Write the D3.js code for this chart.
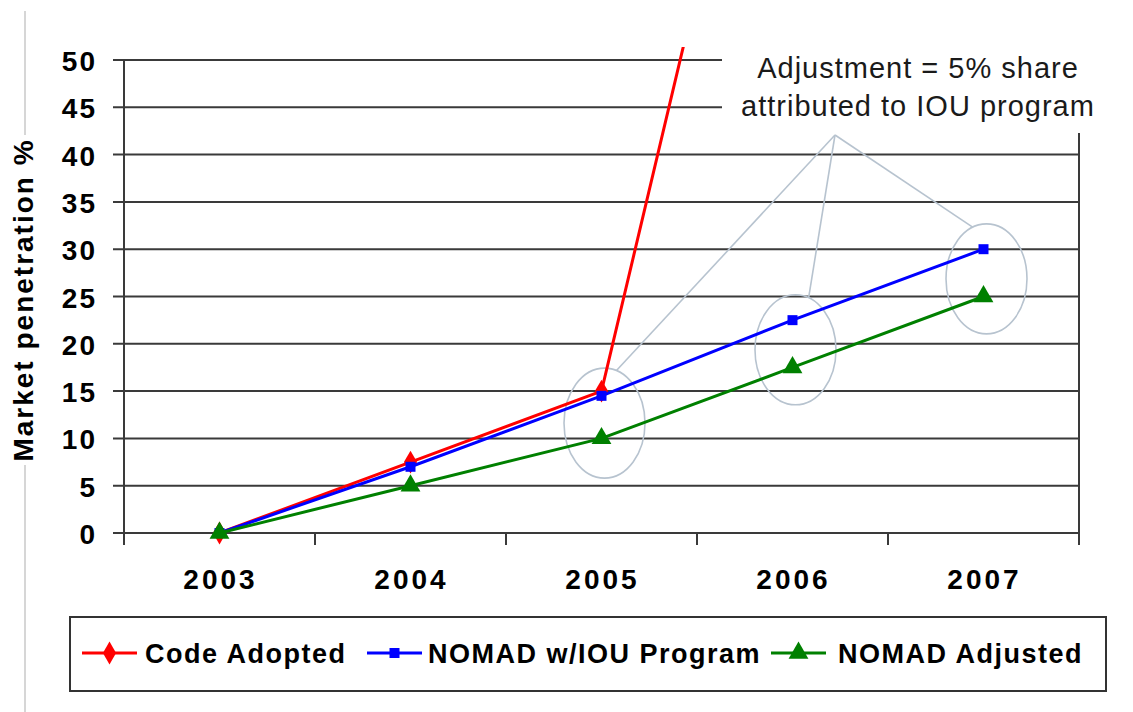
<!DOCTYPE html>
<html>
<head>
<meta charset="utf-8">
<script src="https://cdn.jsdelivr.net/npm/d3@7"></script>
<style>
  html, body { margin: 0; padding: 0; background: #fff; }
  svg { display: block; font-family: "Liberation Sans", Arial, sans-serif; }
</style>
</head>
<body>
<svg id="chart" width="1133" height="712"></svg>
<script>
// Market penetration by year for three scenarios
const years = ["2003", "2004", "2005", "2006", "2007"];
const codeAdopted = [0, 7.5, 15, 100];
const nomadIOU = [0, 7, 14.5, 22.5, 30];
const nomadAdjusted = [0, 5, 10, 17.5, 25];
const yTicks = [0, 5, 10, 15, 20, 25, 30, 35, 40, 45, 50];
const seriesNames = ["Code Adopted", "NOMAD w/IOU Program", "NOMAD Adjusted"];
const calloutLines = ["Adjustment = 5% share", "attributed to IOU program"];
const highlightYears = ["2005", "2006", "2007"];

const svg = d3.select("#chart");
const plotLeft = 124, plotRight = 1079, plotTop = 60, plotBottom = 533;

const x = d3.scaleBand().domain(years).range([plotLeft, plotRight]);
const y = d3.scaleLinear().domain([0, 50]).range([plotBottom, plotTop]);
const cx = d => x(d) + x.bandwidth() / 2;

const gridColor = "#3a3a3a";

// thin grey frame line on the far left, behind the axis title
svg.append("line")
  .attr("x1", 25).attr("x2", 25).attr("y1", 11).attr("y2", 712)
  .attr("stroke", "#c8c8c8").attr("stroke-width", 1.5);

// horizontal gridlines
svg.append("g").selectAll("line").data(yTicks).join("line")
  .attr("x1", plotLeft - 11).attr("x2", plotRight)
  .attr("y1", d => y(d)).attr("y2", d => y(d))
  .attr("stroke", gridColor).attr("stroke-width", 2);

// left axis line
svg.append("line")
  .attr("x1", plotLeft).attr("x2", plotLeft).attr("y1", plotTop).attr("y2", plotBottom + 12)
  .attr("stroke", gridColor).attr("stroke-width", 2);

// right frame line
svg.append("line")
  .attr("x1", plotRight).attr("x2", plotRight).attr("y1", plotTop).attr("y2", plotBottom + 12)
  .attr("stroke", gridColor).attr("stroke-width", 2);

// category tick marks at band boundaries
const boundaries = years.map(d => x(d)).concat([plotRight]);
svg.append("g").selectAll("line").data(boundaries).join("line")
  .attr("x1", d => d).attr("x2", d => d)
  .attr("y1", plotBottom).attr("y2", plotBottom + 12)
  .attr("stroke", gridColor).attr("stroke-width", 2);

// y tick labels
svg.append("g").selectAll("text").data(yTicks).join("text")
  .attr("x", 97).attr("y", d => y(d) + 11)
  .attr("text-anchor", "end")
  .attr("font-size", 28).attr("font-weight", "bold")
  .attr("letter-spacing", 2)
  .attr("fill", "#000")
  .text(d => d);

// x tick labels
svg.append("g").selectAll("text").data(years).join("text")
  .attr("x", d => cx(d) + 1).attr("y", 589)
  .attr("text-anchor", "middle")
  .attr("font-size", 28).attr("font-weight", "bold")
  .attr("letter-spacing", 3)
  .attr("fill", "#000")
  .text(d => d);

// y axis title with white backing
const title = svg.append("g").attr("transform", "translate(33,300) rotate(-90)");
title.append("rect").attr("x", -165).attr("y", -24).attr("width", 330).attr("height", 30).attr("fill", "#fff");
title.append("text")
  .attr("x", 0).attr("y", 0)
  .attr("text-anchor", "middle")
  .attr("font-size", 28).attr("font-weight", "bold")
  .attr("letter-spacing", 2)
  .attr("fill", "#000")
  .text("Market penetration %");

// callout text box (white box hides gridlines behind it)
svg.append("rect")
  .attr("x", 722).attr("y", 36).attr("width", 395).attr("height", 97)
  .attr("fill", "#fff");
svg.append("g").selectAll("text").data(calloutLines).join("text")
  .attr("x", 918).attr("y", (d, i) => 78 + i * 38)
  .attr("text-anchor", "middle")
  .attr("font-size", 29)
  .attr("letter-spacing", 1)
  .attr("fill", "#1a1a1a")
  .text(d => d);

// ellipses grouping the IOU and adjusted points
const calloutColor = "#b7c3cf";
const ellipses = highlightYears.map(yr => {
  const i = years.indexOf(yr);
  return {
    cx: cx(yr) + 3,
    cy: y((nomadIOU[i] + nomadAdjusted[i]) / 2) + 6,
    rx: 40.5,
    ry: 55
  };
});
const attachAngles = [0.3, 0.33, -0.35];
const apex = { x: 835, y: 135 };

svg.append("g").selectAll("line").data(ellipses).join("line")
  .attr("x1", apex.x).attr("y1", apex.y)
  .attr("x2", (e, i) => e.cx + e.rx * Math.sin(attachAngles[i]))
  .attr("y2", (e, i) => e.cy - e.ry * Math.cos(attachAngles[i]))
  .attr("stroke", calloutColor).attr("stroke-width", 1.6);

svg.append("g").selectAll("ellipse").data(ellipses).join("ellipse")
  .attr("cx", e => e.cx).attr("cy", e => e.cy)
  .attr("rx", e => e.rx).attr("ry", e => e.ry)
  .attr("fill", "none")
  .attr("stroke", calloutColor).attr("stroke-width", 1.6);

// clip region for the series (lets the steep line run just above the top gridline)
svg.append("clipPath").attr("id", "plotClip")
  .append("rect").attr("x", 0).attr("y", 47).attr("width", 1133).attr("height", 600);

const line = d3.line().x(d => cx(d.year)).y(d => y(d.value));
const toPoints = vals => vals.map((v, i) => ({ year: years[i], value: v }));

const series = [
  { name: seriesNames[0], values: codeAdopted, color: "#ff0000", marker: d3.symbolDiamond, size: 150 },
  { name: seriesNames[1], values: nomadIOU, color: "#0000ff", marker: d3.symbolSquare, size: 100 },
  { name: seriesNames[2], values: nomadAdjusted, color: "#008000", marker: d3.symbolTriangle, size: 170 }
];

const plot = svg.append("g").attr("clip-path", "url(#plotClip)");
series.forEach(s => {
  const pts = toPoints(s.values);
  plot.append("path")
    .datum(pts)
    .attr("d", line)
    .attr("fill", "none")
    .attr("stroke", s.color)
    .attr("stroke-width", 3);
  plot.append("g").selectAll("path").data(pts.filter(p => p.value <= 50)).join("path")
    .attr("transform", p => `translate(${cx(p.year)},${y(p.value)})`)
    .attr("d", d3.symbol().type(s.marker).size(s.size))
    .attr("fill", s.color);
});

// legend
const legend = svg.append("g");
legend.append("rect")
  .attr("x", 70).attr("y", 617).attr("width", 1036).attr("height", 74)
  .attr("fill", "#fff").attr("stroke", "#333").attr("stroke-width", 2);

const legendX = [82, 367, 771];
const legendTextX = [145, 428, 838];
series.forEach((s, i) => {
  const g = legend.append("g");
  g.append("line")
    .attr("x1", legendX[i]).attr("x2", legendX[i] + 55)
    .attr("y1", 653).attr("y2", 653)
    .attr("stroke", s.color).attr("stroke-width", 3);
  g.append("path")
    .attr("transform", `translate(${legendX[i] + 27.5},653)`)
    .attr("d", d3.symbol().type(s.marker).size(s.size))
    .attr("fill", s.color);
  g.append("text")
    .attr("x", legendTextX[i]).attr("y", 663)
    .attr("font-size", 27).attr("font-weight", "bold")
    .attr("letter-spacing", 1.5)
    .attr("fill", "#000")
    .text(s.name);
});
</script>
</body>
</html>
